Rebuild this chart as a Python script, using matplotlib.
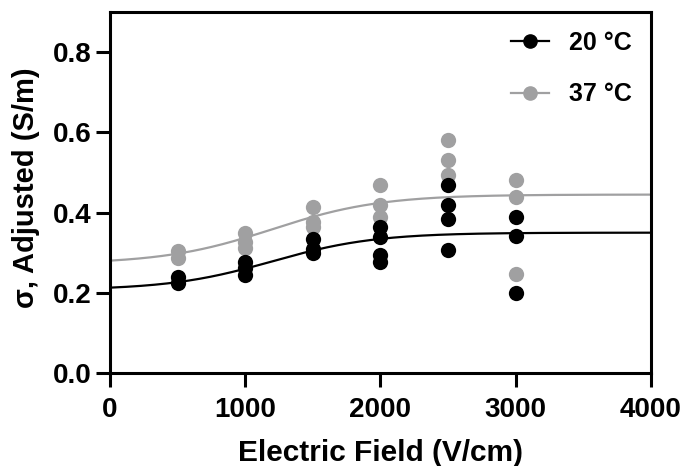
import numpy as np
import matplotlib
matplotlib.use("Agg")
import matplotlib.pyplot as plt
from matplotlib.lines import Line2D

plt.rcParams['font.family'] = ['Liberation Sans', 'DejaVu Sans']
plt.rcParams['font.weight'] = 'bold'

# Data (electric field V/cm, conductivity S/m)
x20 = [500, 500, 1000, 1000, 1000, 1500, 1500, 1500, 2000, 2000, 2000, 2000,
       2500, 2500, 2500, 2500, 3000, 3000, 3000]
y20 = [0.239, 0.224, 0.277, 0.262, 0.244, 0.333, 0.310, 0.298, 0.365, 0.340, 0.294, 0.277,
       0.470, 0.419, 0.385, 0.307, 0.390, 0.341, 0.199]
x37 = [500, 500, 1000, 1000, 1000, 1500, 1500, 1500, 2000, 2000, 2000,
       2500, 2500, 2500, 3000, 3000, 3000]
y37 = [0.303, 0.287, 0.349, 0.326, 0.312, 0.414, 0.377, 0.365, 0.469, 0.419, 0.390,
       0.582, 0.531, 0.493, 0.481, 0.438, 0.248]

# Sigmoid fit parameters: bottom, top, midpoint, slope
fit20 = [0.207, 0.350, 1200, 380]
fit37 = [0.272, 0.445, 1200, 400]

def boltz(x, p):
    b, t, v50, s = p
    return b + (t - b) / (1 + np.exp((v50 - x) / s))

fig = plt.figure(figsize=(6.94, 4.66), dpi=100)
ax = fig.add_axes([0.1585, 0.1996, 0.7795, 0.7744])

xx = np.linspace(0, 4000, 400)
c20 = 'black'
c37 = '#a0a0a1'
ax.plot(xx, boltz(xx, fit37), color=c37, lw=1.6, zorder=2)
ax.plot(xx, boltz(xx, fit20), color=c20, lw=1.6, zorder=2)
ax.plot(x37, y37, 'o', color=c37, ms=11, mew=0, zorder=3)
ax.plot(x20, y20, 'o', color=c20, ms=11, mew=0, zorder=4)

ax.set_xlim(0, 4000)
ax.set_ylim(0, 0.9)
ax.set_xticks([0, 1000, 2000, 3000, 4000])
ax.set_yticks([0.0, 0.2, 0.4, 0.6, 0.8])
ax.set_yticklabels(['0.0', '0.2', '0.4', '0.6', '0.8'])
for s in ax.spines.values():
    s.set_linewidth(2.2)
ax.tick_params(width=2.2, length=10, labelsize=20)
ax.tick_params(axis='x', pad=7.5)
ax.tick_params(axis='y', pad=3.5)
ax.set_xlabel('Electric Field (V/cm)', fontsize=21.5, fontweight='bold', labelpad=11.5)
ax.set_ylabel('σ, Adjusted (S/m)', fontsize=21, fontweight='bold')
ax.yaxis.set_label_coords(-0.129, 0.514)

handles = [Line2D([0], [0], color=c20, marker='o', ms=9.5, lw=1.6),
           Line2D([0], [0], color=c37, marker='o', ms=9.5, lw=1.6)]
ax.legend(handles, ['20 °C', '37 °C'], loc='upper right', frameon=False,
          fontsize=18, handlelength=1.55, labelspacing=1.1, borderaxespad=0.35,
          handletextpad=0.8)

fig.savefig('out.png', dpi=100)
